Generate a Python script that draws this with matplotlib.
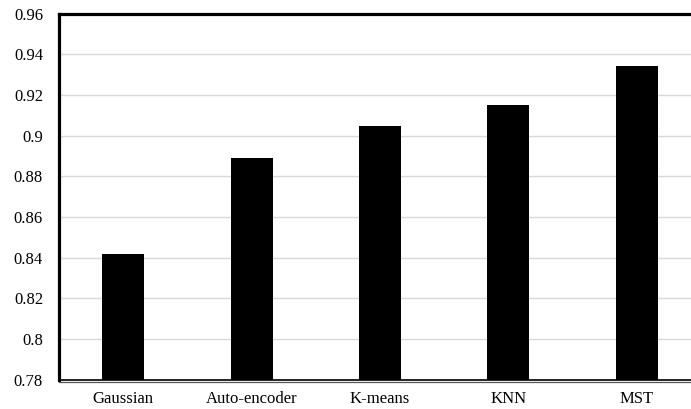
import matplotlib
matplotlib.use("Agg")
import matplotlib.pyplot as plt
from matplotlib.lines import Line2D

categories = ["Gaussian", "Auto-encoder", "K-means", "KNN", "MST"]
values = [0.8418, 0.8892, 0.9048, 0.9149, 0.9344]
yticks = [0.78, 0.8, 0.82, 0.84, 0.86, 0.88, 0.9, 0.92, 0.94, 0.96]
ytick_labels = ["0.78", "0.8", "0.82", "0.84", "0.86", "0.88", "0.9", "0.92", "0.94", "0.96"]

plt.rcParams['font.family'] = ['Liberation Serif', 'DejaVu Serif']

fig = plt.figure(figsize=(6.91, 4.09), dpi=100)
ax = fig.add_axes([59/691, (409-379.7)/409, (701-59)/691, (379.7-13.7)/409])

x = list(range(len(categories)))
ax.bar(x, values, width=0.327, color='black', zorder=3)

ax.set_xlim(-0.5, 4.5)
ax.set_ylim(0.78, 0.96)
ax.set_yticks(yticks)
ax.set_yticklabels(ytick_labels)
ax.set_xticks(x)
ax.set_xticklabels(categories)
ax.tick_params(axis='y', length=0, pad=11.5, labelsize=12)
ax.tick_params(axis='x', length=0, pad=8, labelsize=12)

ax.yaxis.grid(True, color='#d9d9d9', linewidth=1.0, zorder=0)
ax.set_axisbelow(True)

for s in ['left', 'top', 'right']:
    ax.spines[s].set_linewidth(2.3)
    ax.spines[s].set_color('black')
ax.spines['bottom'].set_linewidth(1.2)
ax.spines['bottom'].set_color('black')

# second thin line under bottom axis
fig.add_artist(Line2D([59/691, 1.0], [(409-381.5)/409, (409-381.5)/409],
                      transform=fig.transFigure, color='#555555', linewidth=0.9))

fig.savefig("out.png", dpi=100)
